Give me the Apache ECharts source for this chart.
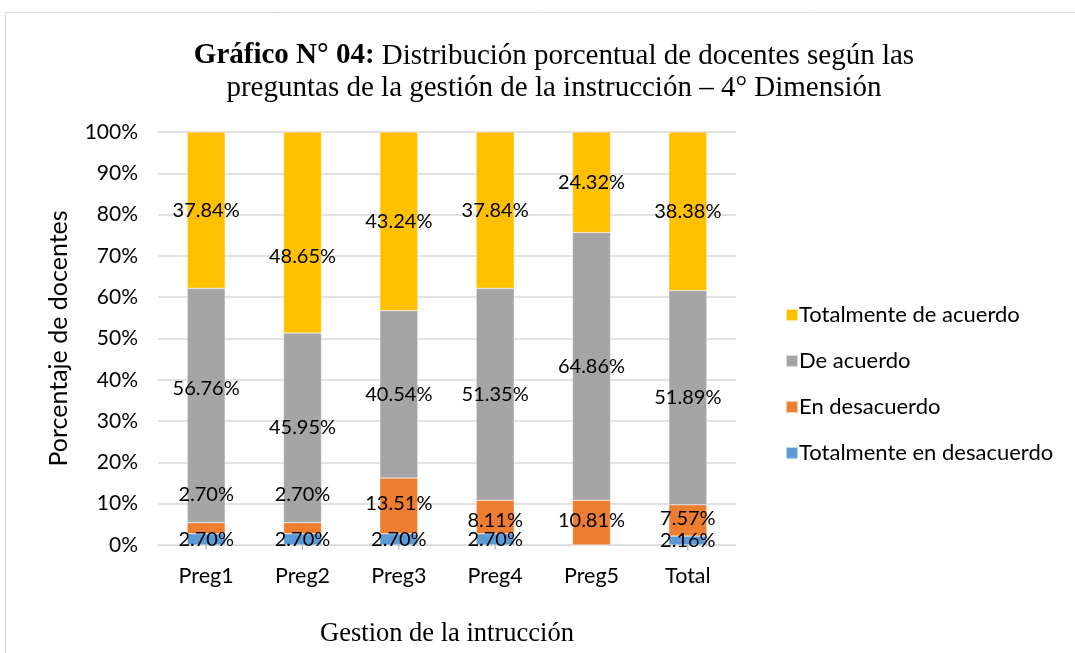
<!DOCTYPE html>
<html><head><meta charset="utf-8">
<script src="https://cdn.jsdelivr.net/npm/echarts@6/dist/echarts.min.js"></script>
<style>html,body{margin:0;padding:0;background:#fff}#c{width:1075px;height:653px}</style>
</head><body><div id="c"></div>
<script>
const categories = ['Preg1','Preg2','Preg3','Preg4','Preg5','Total'];
const totDesacuerdo = [2.70, 2.70, 2.70, 2.70, 0, 2.16];
const enDesacuerdo = [2.70, 2.70, 13.51, 8.11, 10.81, 7.57];
const deAcuerdo = [56.76, 45.95, 40.54, 51.35, 64.86, 51.89];
const totAcuerdo = [37.84, 48.65, 43.24, 37.84, 24.32, 38.38];
const yTicks = [0,10,20,30,40,50,60,70,80,90,100];

const FONT = 'Lato, "Open Sans", sans-serif';
const SERIF = '"Liberation Serif", "DejaVu Serif", serif';
const chart = echarts.init(document.getElementById('c'));
function lbl(v){ return v.value > 0 ? v.value.toFixed(2) + '%' : ''; }
function mk(name, data, color, layout){
  return {
    name, type:'bar', stack:'s', data, barWidth:38,
    itemStyle:{color, borderColor:'rgba(255,255,255,0.6)', borderWidth:0.5},
    label:{show:true, position:'inside', formatter:lbl, color:'#000', fontFamily:FONT, fontSize:20},
    labelLine:{show:true, lineStyle:{color:'#A5A5A5', width:1}},
    labelLayout: layout || null
  };
}
chart.setOption({
  animation:false,
  title:{
    text:'{b|Gráfico N° 04:} Distribución porcentual de docentes según las\npreguntas de la gestión de la instrucción – 4° Dimensión',
    left:549, top:35, textAlign:'center',
    textStyle:{fontFamily:SERIF, fontSize:29, fontWeight:'normal', color:'#000', lineHeight:32, align:'center',
      rich:{b:{fontFamily:SERIF, fontSize:29, fontWeight:'bold', color:'#000', lineHeight:32}}}
  },
  graphic:[{type:'rect', shape:{x:5.5,y:12.5,width:1200,height:800}, style:{fill:'none', stroke:'#D9D9D9', lineWidth:1}, silent:true}],
  legend:{
    orient:'vertical', left:780, top:299, itemGap:24, itemWidth:12, itemHeight:12, icon:'rect',
    data:['Totalmente de acuerdo','De acuerdo','En desacuerdo','Totalmente en desacuerdo'],
    textStyle:{fontFamily:FONT, fontSize:22, color:'#000', padding:[0,0,0,-4]}
  },
  grid:{left:158, right:339, top:132, bottom:108},
  xAxis:{
    type:'category', data:categories,
    name:'Gestion de la intrucción', nameLocation:'middle', nameGap:76,
    nameTextStyle:{fontFamily:SERIF, fontSize:26.5, color:'#000'},
    axisLine:{lineStyle:{color:'#D9D9D9'}}, axisTick:{show:false},
    axisLabel:{fontFamily:FONT, fontSize:21.5, color:'#000', margin:20}
  },
  yAxis:{
    type:'value', min:0, max:100, interval:10,
    name:'Porcentaje de docentes', nameLocation:'middle', nameGap:87,
    nameTextStyle:{fontFamily:FONT, fontSize:25, color:'#000'},
    axisLabel:{fontFamily:FONT, fontSize:21, color:'#000', formatter:v=>yTicks.includes(v)? v+'%':'' , margin:20},
    splitLine:{lineStyle:{color:'#D9D9D9', width:1.5}},
    axisLine:{show:false}, axisTick:{show:false}
  },
  series:[
    mk('Totalmente en desacuerdo', totDesacuerdo, '#5B9BD5'),
    mk('En desacuerdo', enDesacuerdo, '#ED7D31', p => (p.dataIndex===0||p.dataIndex===1)?{dy:-34}:(p.dataIndex===3?{dy:3}:{dy:-2})),
    mk('De acuerdo', deAcuerdo, '#A5A5A5', p => p.dataIndex===0?{dy:-17}:{}),
    mk('Totalmente de acuerdo', totAcuerdo, '#FFC000', p => p.dataIndex===1?{dy:24}:{})
  ]
});
</script></body></html>
